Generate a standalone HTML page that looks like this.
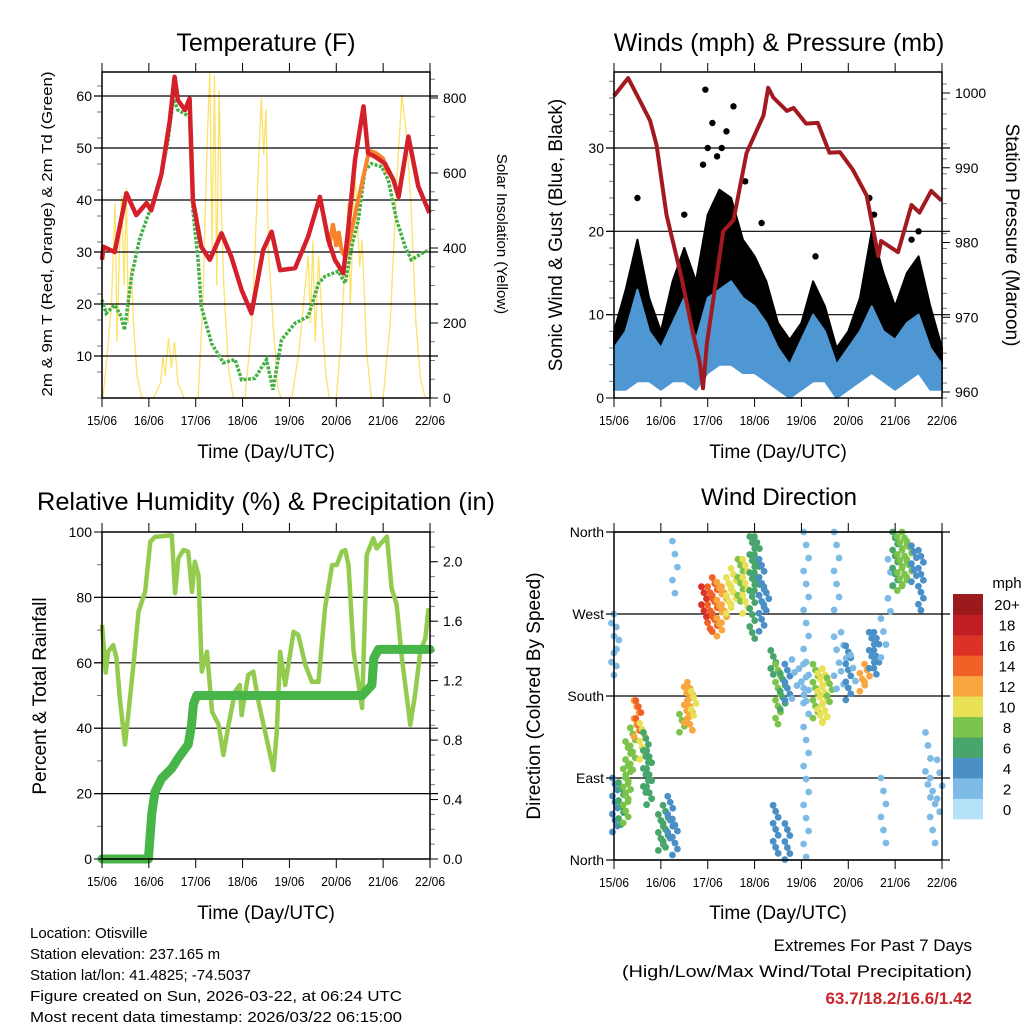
<!DOCTYPE html>
<html><head><meta charset="utf-8"><style>
body{margin:0;background:#fff}svg{display:block;font-family:"Liberation Sans",sans-serif}
</style></head><body>
<svg id="s" width="1024" height="1024" viewBox="0 0 1024 1024">
<g id="static">
<text x="266" y="51" font-size="25" text-anchor="middle">Temperature (F)</text>
<text x="779" y="51" font-size="25" text-anchor="middle">Winds (mph) &amp; Pressure (mb)</text>
<text x="266" y="510" font-size="25" text-anchor="middle" textLength="458" lengthAdjust="spacingAndGlyphs">Relative Humidity (%) &amp; Precipitation (in)</text>
<text x="779" y="505" font-size="24" text-anchor="middle">Wind Direction</text>
<text transform="translate(52,234) rotate(-90)" font-size="15" text-anchor="middle" textLength="325" lengthAdjust="spacingAndGlyphs">2m &amp; 9m T (Red, Orange) &amp; 2m Td (Green)</text>
<text transform="translate(497,234) rotate(90)" font-size="15" text-anchor="middle">Solar Insolation (Yellow)</text>
<text transform="translate(562,235) rotate(-90)" font-size="19" text-anchor="middle">Sonic Wind &amp; Gust (Blue, Black)</text>
<text transform="translate(1006,235) rotate(90)" font-size="19" text-anchor="middle">Station Pressure (Maroon)</text>
<text transform="translate(46,696) rotate(-90)" font-size="19" text-anchor="middle">Percent &amp; Total Rainfall</text>
<text transform="translate(540,696) rotate(-90)" font-size="19" text-anchor="middle">Direction (Colored By Speed)</text>
<text x="266" y="458" font-size="19" text-anchor="middle">Time (Day/UTC)</text>
<text x="778" y="458" font-size="19" text-anchor="middle">Time (Day/UTC)</text>
<text x="266" y="919" font-size="19" text-anchor="middle">Time (Day/UTC)</text>
<text x="778" y="919" font-size="19" text-anchor="middle">Time (Day/UTC)</text>
<g font-size="15">
<text x="30" y="938">Location: Otisville</text>
<text x="30" y="959">Station elevation: 237.165 m</text>
<text x="30" y="980">Station lat/lon: 41.4825; -74.5037</text>
<text x="30" y="1001" textLength="372" lengthAdjust="spacingAndGlyphs">Figure created on Sun, 2026-03-22, at 06:24 UTC</text>
<text x="30" y="1022" textLength="372" lengthAdjust="spacingAndGlyphs">Most recent data timestamp: 2026/03/22 06:15:00</text>
</g>
<g font-size="17" text-anchor="end">
<text x="972" y="951">Extremes For Past 7 Days</text>
<text x="972" y="977" textLength="350" lengthAdjust="spacingAndGlyphs">(High/Low/Max Wind/Total Precipitation)</text>
<text x="972" y="1004" fill="#c8262c" font-weight="bold">63.7/18.2/16.6/1.42</text>
</g>
</g>
</svg>
<script>
// ---------- data ----------
const dayLabels=["15/06","16/06","17/06","18/06","19/06","20/06","21/06","22/06"];
const tempT=[0,0.03,0.27,0.52,0.73,0.95,1.05,1.27,1.45,1.55,1.62,1.77,1.87,1.94,2.12,2.3,2.55,2.76,2.98,3.19,3.44,3.62,3.8,4.12,4.4,4.65,4.83,4.97,5.15,5.26,5.4,5.58,5.68,5.83,6.04,6.22,6.33,6.54,6.75,6.99];
const tempV=[28.5,31,30,41.3,37.1,39.4,38,45,55.4,63.7,59.2,57.3,59.5,39.9,31,28.5,33.6,29.1,22.7,18.2,30.4,33.9,26.5,26.9,33,40.6,32.3,28.5,25.9,34.9,47.7,58,49,48.3,47,43.8,40.6,52.2,42.6,37.5];
const orangeT=[4.85,4.93,5.0,5.05,5.12,5.2,5.7,5.85,6.0,6.1];
const orangeV=[31,35.5,31,34,30,29,49.5,49,48,45];
const dewT=[0,0.09,0.27,0.41,0.48,0.63,0.8,1.02,1.23,1.41,1.52,1.62,1.87,1.94,2.05,2.12,2.34,2.59,2.84,2.98,3.26,3.51,3.65,3.83,4.12,4.4,4.62,4.76,5.04,5.19,5.33,5.47,5.61,5.75,5.97,6.11,6.29,6.47,6.6,6.82,6.99];
const dewV=[20.8,18.2,19.8,17.6,15,25.3,32.4,38,43.2,51.5,59.5,57.3,56,38,28.5,19.5,12.4,8.7,9.3,5.4,5.7,9.3,3.5,13.1,16.3,17.6,24,25.3,26.3,24,31,36.1,45.7,47,46.4,43.8,36.1,31,28.5,29.7,30.4];
const solarT=[0.02,0.1,0.2,0.28,0.32,0.38,0.42,0.47,0.52,0.56,0.62,0.68,0.75,0.85,1.1,1.25,1.3,1.35,1.42,1.48,1.55,1.62,1.75,2.05,2.15,2.25,2.3,2.35,2.4,2.45,2.5,2.55,2.6,2.7,2.8,3.05,3.2,3.3,3.4,3.45,3.5,3.55,3.65,3.75,3.82,4.05,4.2,4.3,4.4,4.45,4.5,4.55,4.62,4.7,4.78,4.85,5.0,5.1,5.2,5.25,5.3,5.4,5.5,5.55,5.65,5.75,6.0,6.15,6.3,6.4,6.5,6.6,6.7,6.8,6.9];
const solarV=[0,100,250,520,150,420,540,300,560,200,350,180,60,0,0,40,110,60,160,80,150,40,0,0,250,700,870,400,860,300,820,500,300,80,0,0,200,500,800,650,770,400,200,30,0,0,120,250,380,200,420,150,380,200,60,0,0,150,400,520,250,600,350,420,120,0,0,200,600,810,700,500,200,50,0];
const windT=[0,0.25,0.5,0.75,1,1.25,1.5,1.75,2,2.25,2.5,2.75,3,3.25,3.5,3.75,4,4.25,4.5,4.75,5,5.25,5.5,5.75,6,6.25,6.5,6.75,7];
const windHi=[6,8,13,8,6,9,12,7,12,13,14,12,11,9,6,4,7,10,8,4,6,8,11,8,7,9,10,6,4];
const windLo=[1,1,2,2,1,2,2,1,3,4,4,3,3,2,1,0,1,2,2,0,1,2,3,2,1,2,3,1,1];
const gustHi=[8,13,19,12,8,14,18,14,22,25,24,19,17,14,9,7,9,14,11,6,8,12,20,15,11,15,17,11,6];
const gustPeakT=[0.5,1.5,1.95,2.1,2.3,2.55,2.8,3.15,4.3,5.45,5.55,6.35,6.5,2.0,2.4,1.9,2.2];
const gustPeakV=[24,22,37,33,30,35,26,21,17,24,22,19,20,30,32,28,29];
const presT=[0,0.3,0.55,0.77,0.91,1.12,1.44,1.69,1.83,1.9,1.98,2.33,2.55,2.83,3.19,3.29,3.4,3.69,3.83,4.1,4.35,4.6,4.82,5.1,5.39,5.64,5.7,6.06,6.35,6.52,6.77,6.99];
const presV=[999.6,1002,999,996.3,993,983.7,975.3,967.7,964,960.5,966.4,981.5,983,992,997,1000.7,999.4,997.6,998,995.9,996,992,992.1,989.7,986.3,978.2,980.2,978.7,985,984,986.9,985.6];
const rhT=[0,0.08,0.13,0.24,0.31,0.38,0.49,0.56,0.67,0.78,0.92,1.03,1.13,1.49,1.56,1.63,1.74,1.84,1.92,1.98,2.06,2.13,2.24,2.35,2.49,2.59,2.7,2.84,2.94,2.98,3.12,3.23,3.34,3.48,3.66,3.73,3.8,3.91,4.09,4.19,4.34,4.48,4.62,4.76,4.91,5.01,5.12,5.19,5.26,5.37,5.55,5.65,5.79,5.86,6.08,6.18,6.29,6.4,6.58,6.69,6.79,6.9,6.97];
const rhV=[71.6,57,63.4,65.4,61.4,49.2,35,44,59.3,75.6,81.7,97,98.5,99,81.3,92,94.5,94,81.7,90.9,86.8,57.3,63.4,45,41,31.8,41,51.2,53.2,44,56.3,57.3,48.1,38.9,27.2,38.9,63.4,53.2,69.5,68.5,59.3,54.2,54.2,76.7,89.9,89.9,94,94.5,89.9,63.4,46.2,93,98.1,95,98.6,82.8,77.7,61.4,41,51.2,63.4,67.5,76.7];
const rainT=[0,0.99,1.06,1.13,1.27,1.49,1.63,1.84,1.91,1.95,2.02,5.55,5.76,5.8,5.9,7.0];
const rainV=[0,0,0.3,0.45,0.54,0.61,0.68,0.77,0.9,1.04,1.1,1.1,1.17,1.35,1.41,1.41];
// wind direction clusters: time, dirLo, dirHi, speed
const dirT=  [0.02,0.05,0.15,0.25,0.3,0.4,0.48,0.52,0.6,0.68,0.75,1.0,1.1,1.2,1.3,1.45,1.55,1.62,1.7,1.92,2.05,2.15,2.25,2.35,2.45,2.55,2.7,2.8,2.95,3.05,3.15,3.25,3.4,3.5,3.6,3.7,3.85,4.0,4.1,4.3,4.4,4.5,4.6,4.75,4.9,5.0,5.1,5.3,5.4,5.5,5.6,5.75,5.9,6.0,6.1,6.2,6.3,6.4,6.55,6.7,6.8,6.95,0.0,1.3,3.45,4.1,4.75,5.75,3.7];
const dirLo= [30,200,35,40,60,95,135,140,110,70,60,5,10,20,5,140,150,140,155,265,250,245,240,255,265,275,280,270,240,290,250,270,200,145,160,170,165,170,160,150,150,150,170,175,180,170,185,185,190,210,200,220,270,300,295,300,305,300,270,60,10,40,190,290,5,0,270,5,0];
const dirHi= [90,270,85,100,130,145,175,175,150,140,120,50,60,70,45,160,190,195,185,300,300,310,305,300,310,320,330,330,355,355,330,300,230,215,205,215,220,210,215,215,205,210,200,245,250,235,225,205,215,250,250,265,330,360,355,360,350,345,340,140,90,110,260,350,60,360,360,90,40];
const dirSpd=[4,2,5,7,8,8,12,14,10,6,5,5,6,4,4,8,11,12,10,15,14,13,12,11,10,10,8,9,6,5,4,4,5,7,6,3,2,2,2,8,9,10,7,2,2,3,2,11,12,4,3,2,2,6,8,7,8,4,3,2,2,2,2,2,4,1,1,1,3];
const speedColors=["#b5e2f8","#7dbbe6","#4a90c7","#48a56c","#7bc34a","#e8e055","#f8a640","#f06128","#dc3127","#bf1e24","#9b1a1c"];
const cbLabels=["0","2","4","6","8","10","12","14","16","18","20+"];
const tempTicks=[10,20,30,40,50,60],solarTicks=[0,200,400,600,800];
const windTicks=[0,10,20,30],presTicks=[960,970,980,990,1000];
const rhTicks=[0,20,40,60,80,100],rainTicks=["0.0","0.4","0.8","1.2","1.6","2.0"];
const dirTicks=["North","East","South","West","North"];

// ---------- drawing ----------
const svg=document.getElementById('s');const NS='http://www.w3.org/2000/svg';
function mk(tag,at,parent){const e=document.createElementNS(NS,tag);for(const k in at)e.setAttribute(k,at[k]);(parent||svg).appendChild(e);return e;}
function lin(d0,d1,r0,r1){return v=>r0+(v-d0)/(d1-d0)*(r1-r0);}
function poly(xs,ys,fx,fy){return xs.map((t,i)=>fx(t).toFixed(1)+','+fy(ys[i]).toFixed(1)).join(' ');}

function frame(x0,x1,y0,y1,name){
  const g=mk('g',{});
  
  
  const fx=lin(0,7,x0,x1);
  for(let d=0;d<=7;d++){
    const x=fx(d);
    mk('line',{x1:x,x2:x,y1:y0,y2:y0-9,stroke:'#000','stroke-width':1},g);
    mk('line',{x1:x,x2:x,y1:y1,y2:y1+9,stroke:'#000','stroke-width':1},g);
    const t=mk('text',{x:x,y:y1+27,'font-size':13,'text-anchor':'middle',textLength:30,lengthAdjust:'spacingAndGlyphs'},g);
    
    
    t.textContent=dayLabels[d];
  }
  mk('rect',{x:x0,y:y0,width:x1-x0,height:y1-y0,fill:'none',stroke:'#000','stroke-width':1.5},g);
  return fx;
}
function minor(g,x,y0,y1,step,dir){for(let y=y1;y>=y0;y-=step)mk('line',{x1:x,x2:x+dir*5,y1:y,y2:y,stroke:'#777','stroke-width':1},g);}
function hgrid(g,x0,x1,y){mk('line',{x1:x0-8,x2:x1+8,y1:y,y2:y,stroke:'#000','stroke-width':1.2},g);}
function leftLabels(g,x0,vals,fy,labels){vals.forEach((v,i)=>{mk('line',{x1:x0-8,x2:x0,y1:fy(v),y2:fy(v),stroke:'#000'},g);const t=mk('text',{x:x0-10,y:fy(v)+5,'font-size':14,'text-anchor':'end'},g);t.textContent=labels?labels[i]:v;});}
function rightLabels(g,x1,vals,fy,labels){vals.forEach((v,i)=>{mk('line',{x1:x1,x2:x1+8,y1:fy(v),y2:fy(v),stroke:'#000'},g);const t=mk('text',{x:x1+13,y:fy(v)+5,'font-size':14},g);t.textContent=labels?labels[i]:v;});}

// Panel 1 temperature
(function(){
 const x0=102,x1=430,y0=72,y1=398;
 const g=mk('g',{});
 
 
 const fx=lin(0,7,x0,x1),fy=lin(0,10,408,356),fs=lin(0,800,398,98);
 const sol=mk('polyline',{points:poly(solarT,solarV,fx,fs),fill:'none',stroke:'#fde26a','stroke-width':1.3},g);
 
 
 tempTicks.forEach(v=>hgrid(g,x0,x1,fy(v)));
 const dw=mk('polyline',{points:poly(dewT,dewV,fx,fy),fill:'none',stroke:'#46b048','stroke-width':3.5,'stroke-dasharray':'3 1.5'},g);
 
 
 const or=mk('polyline',{points:poly(orangeT,orangeV,fx,fy),fill:'none',stroke:'#f7832a','stroke-width':4},g);
 
 
 const rd=mk('polyline',{points:poly(tempT,tempV,fx,fy),fill:'none',stroke:'#d4202a','stroke-width':4.5,'stroke-linejoin':'round'},g);
 
 
 frame(x0,x1,y0,y1,'temperature');
 minor(g,x0,y0,y1,26,-1);minor(g,x1,y0,y1,18.75,1);
 leftLabels(g,x0,tempTicks,fy);
 rightLabels(g,x1,solarTicks,fs);
})();

// Panel 2 winds
(function(){
 const x0=614,x1=942,y0=72,y1=398;
 const g=mk('g',{});
 
 
 const fx=lin(0,7,x0,x1),fy=lin(0,30,398,148),fp=lin(960,1000,392,93);
 windTicks.slice(1).forEach(v=>hgrid(g,x0,x1,fy(v)));
 const gp=mk('polygon',{points:poly(windT,gustHi,fx,fy)+' '+poly(windT.slice().reverse(),windHi.slice().reverse(),fx,fy),fill:'#000',stroke:'#000','stroke-width':2,'stroke-linejoin':'round'},g);
 
 
 gustPeakT.forEach((t,i)=>{const c=mk('circle',{cx:fx(t),cy:fy(gustPeakV[i]),r:3.2,fill:'#000'},g);});
 const bp=mk('polygon',{points:poly(windT,windHi,fx,fy)+' '+poly(windT.slice().reverse(),windLo.slice().reverse(),fx,fy),fill:'#4f97d2',stroke:'#4f97d2','stroke-width':2,'stroke-linejoin':'round'},g);
 
 
 const pl=mk('polyline',{points:poly(presT,presV,fx,fp),fill:'none',stroke:'#a11a1f','stroke-width':4,'stroke-linejoin':'round'},g);
 
 
 frame(x0,x1,y0,y1,'winds');
 minor(g,x0,y0,y1,16.67,-1);minor(g,x1,y0,y1,14.95,1);
 leftLabels(g,x0,windTicks,fy);
 rightLabels(g,x1,presTicks,fp);
})();

// Panel 3 RH
(function(){
 const x0=102,x1=430,y0=532,y1=859;
 const g=mk('g',{});
 
 
 const fx=lin(0,7,x0,x1),fy=lin(0,100,y1,y0),fr=lin(0,2.2,y1,y0);
 rhTicks.slice(1,5).forEach(v=>hgrid(g,x0,x1,fy(v)));
 const rh=mk('polyline',{points:poly(rhT,rhV,fx,fy),fill:'none',stroke:'#92cb4e','stroke-width':4.5,'stroke-linejoin':'round'},g);
 
 
 const rn=mk('polyline',{points:poly(rainT,rainV,fx,fr),fill:'none',stroke:'#47b547','stroke-width':9,'stroke-linejoin':'round','stroke-linecap':'round'},g);
 
 
 frame(x0,x1,y0,y1,'humidity');
 minor(g,x0,y0,y1,32.7,-1);minor(g,x1,y0,y1,14.86,1);
 leftLabels(g,x0,rhTicks,fy);
 rightLabels(g,x1,rainTicks.map(Number),fr,rainTicks);
})();

// Panel 4 direction
(function(){
 const x0=614,x1=942,y0=532,y1=860;
 const g=mk('g',{});
 
 
 const fx=lin(0,7,x0,x1),fy=lin(0,360,y1,y0);
 [90,180,270].forEach(v=>hgrid(g,x0,x1,fy(v)));
 [0,360].forEach(v=>mk('line',{x1:x0-8,x2:x1+8,y1:fy(v),y2:fy(v),stroke:'#000','stroke-width':1.2},g));
 dirT.forEach((t,i)=>{
   const ci=Math.min(10,Math.round(dirSpd[i]/2));
   const ya=fy(dirHi[i]),yb=fy(dirLo[i]);
   const step=dirSpd[i]<=2?13:6;
   let k=0;
   for(let y=ya;y<=yb+0.1;y+=step,k++){
     const c=mk('circle',{cx:fx(t)+(k%3-1)*2.5,cy:y,r:3.4,fill:speedColors[ci]},g);
     
     
   }
 });
 frame(x0,x1,y0,y1,'wind-direction');
 leftLabels(g,x0,[0,90,180,270,360],fy,dirTicks);
 const cb=mk('g',{},g);
 
 
 const h=225/11;
 speedColors.forEach((c,i)=>{const yy=819-(i+1)*h;mk('rect',{x:953,y:yy,width:30,height:h+0.3,fill:c},cb);const t=mk('text',{x:1007,y:yy+h/2+6,'font-size':15,'text-anchor':'middle'},cb);t.textContent=cbLabels[i];});
 const m=mk('text',{x:1007,y:588,'font-size':15,'text-anchor':'middle'},cb);m.textContent='mph';
})();
</script>
</body></html>
